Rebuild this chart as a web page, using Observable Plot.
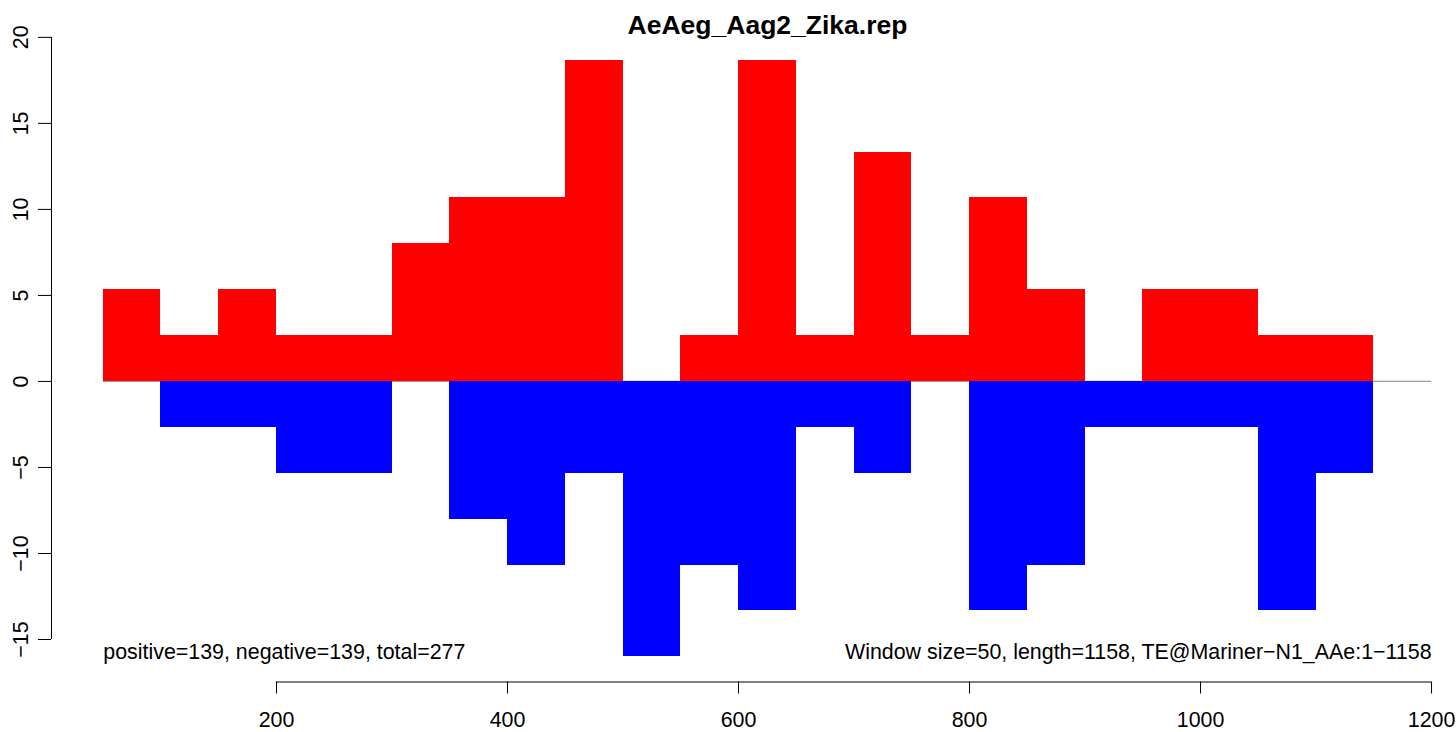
<!DOCTYPE html>
<html>
<head>
<meta charset="utf-8">
<script src="https://cdn.jsdelivr.net/npm/d3@7"></script>
<script src="https://cdn.jsdelivr.net/npm/@observablehq/plot@0.6"></script>
<style>
  html, body { margin: 0; padding: 0; background: #fff; }
  #chart svg { display: block; overflow: visible; }
</style>
</head>
<body>
<div id="chart"></div>
<script>
const chartTitle = "AeAeg_Aag2_Zika.rep";
const windowSize = 50;
const windowStarts = [50, 100, 150, 200, 250, 300, 350, 400, 450, 500, 550, 600, 650, 700, 750, 800, 850, 900, 950, 1000, 1050, 1100];
const positive = [5.33, 2.67, 5.33, 2.67, 2.67, 8, 10.67, 10.67, 18.67, 0, 2.67, 18.67, 2.67, 13.33, 2.67, 10.67, 5.33, 0, 5.33, 5.33, 2.67, 2.67];
const negative = [0, -2.67, -2.67, -5.33, -5.33, 0, -8, -10.67, -5.33, -16, -10.67, -13.33, -2.67, -5.33, 0, -13.33, -10.67, -2.67, -2.67, -2.67, -13.33, -5.33];
const xTicks = [200, 400, 600, 800, 1000, 1200];
const yTicks = [-15, -10, -5, 0, 5, 10, 15, 20];
const leftNote = "positive=139, negative=139, total=277";
const rightNote = "Window size=50, length=1158, TE@Mariner\u2212N1_AAe:1\u22121158";
const zeroLineRange = [50, 1200];

const bars = windowStarts.map((s, i) => ({start: s, end: s + windowSize, pos: positive[i], neg: negative[i]}));

const xDomain = [5.2, 1201.7];
const yDomain = [-17.47, 20.05];
const font = "'Liberation Sans', Arial, Helvetica, sans-serif";
const fmt = d => d < 0 ? "\u2212" + Math.abs(d) : String(d);
const fs = 21.4;

const plot = Plot.plot({
  width: 1456,
  height: 732,
  marginLeft: 51,
  marginRight: 23,
  marginTop: 36,
  marginBottom: 50.5,
  style: {fontFamily: font, fontSize: fs + "px", color: "#000", background: "#fff"},
  x: {domain: xDomain, axis: null},
  y: {domain: yDomain, axis: null},
  marks: [
    Plot.ruleY([0], {x1: zeroLineRange[0], x2: zeroLineRange[1], stroke: "#9a9a9a", strokeWidth: 1.2}),
    Plot.rectY(bars.filter(d => d.pos !== 0), {x1: "start", x2: "end", y: "pos", fill: "#ff0000", shapeRendering: "crispEdges"}),
    Plot.rectY(bars.filter(d => d.neg !== 0), {x1: "start", x2: "end", y: "neg", fill: "#0000ff", shapeRendering: "crispEdges"}),
    // axes
    Plot.ruleY([yDomain[0]], {x1: xTicks[0], x2: xTicks[xTicks.length - 1], stroke: "#000", strokeWidth: 1}),
    Plot.axisX({ticks: xTicks, tickSize: 12, tickPadding: 18, fontSize: fs, tickFormat: d => String(d), label: null, anchor: "bottom", stroke: "#000"}),
    Plot.ruleX([xDomain[0]], {y1: yTicks[0], y2: yTicks[yTicks.length - 1], stroke: "#000", strokeWidth: 1}),
    Plot.axisY({ticks: yTicks, tickSize: 13, tickPadding: 11, tickRotate: -90, fontSize: fs, tickFormat: fmt, label: null, anchor: "left", stroke: "#000"}),
    // annotations
    Plot.text([leftNote], {x: zeroLineRange[0], frameAnchor: "bottom", text: d => d, textAnchor: "start", lineAnchor: "bottom", dy: -23.5, fontSize: fs, fill: "#000"}),
    Plot.text([rightNote], {x: zeroLineRange[1], frameAnchor: "bottom", text: d => d, textAnchor: "end", lineAnchor: "bottom", dy: -23.5, fontSize: fs, fill: "#000"}),
    Plot.text([chartTitle], {frameAnchor: "top", text: d => d, lineAnchor: "bottom", dx: 25, dy: -3, fontSize: 26.5, fontWeight: "bold", fill: "#000"})
  ]
});
document.getElementById("chart").appendChild(plot);
</script>
</body>
</html>
